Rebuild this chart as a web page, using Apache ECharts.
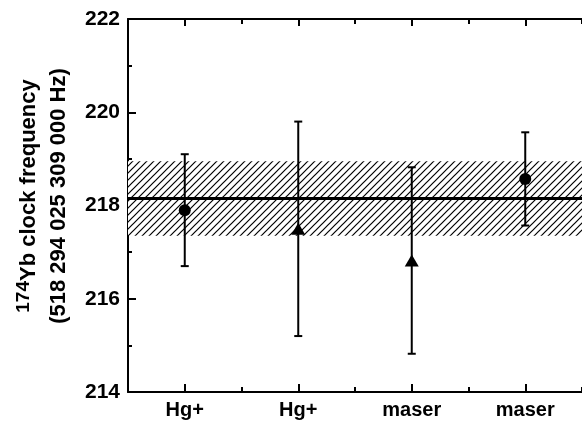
<!DOCTYPE html>
<html>
<head>
<meta charset="utf-8">
<script src="https://cdn.jsdelivr.net/npm/echarts@6/dist/echarts.min.js"></script>
<style>
html,body{margin:0;padding:0;background:#fff;}
#chart{width:582px;height:422px;}
</style>
</head>
<body>
<div id="chart"></div>
<script>
// ---- data ----
var categories = ['Hg+', 'Hg+', 'maser', 'maser'];
var values = [217.9, 217.5, 216.82, 218.57];
var errors = [1.2, 2.3, 2.0, 1.0];
var markers = ['circle', 'triangle', 'triangle', 'circle'];
var meanValue = 218.15;
var meanUncertainty = 0.8;
var yTicks = [214, 216, 218, 220, 222];

// ---- hatch pattern ----
var tile = document.createElement('canvas');
tile.width = 7; tile.height = 7;
var g = tile.getContext('2d');
g.fillStyle = '#fff'; g.fillRect(0, 0, 7, 7);
g.strokeStyle = '#000'; g.lineWidth = 1.2;
g.beginPath();
g.moveTo(-1, 8); g.lineTo(8, -1);
g.moveTo(-2, 2); g.lineTo(2, -2);
g.moveTo(5, 9); g.lineTo(9, 5);
g.stroke();

var FONT = 'Liberation Sans, Arial, sans-serif';
var chart = echarts.init(document.getElementById('chart'), null, {renderer: 'canvas'});

var pointData = values.map(function (v, i) {
  return {value: [i, v], symbol: markers[i],
          symbolSize: markers[i] === 'circle' ? 12 : [14, 12]};
});
var errData = values.map(function (v, i) { return [i, v - errors[i], v + errors[i]]; });

var catAxisBase = {
  type: 'category', data: categories, boundaryGap: true, gridIndex: 0
};

var option = {
  animation: false,
  backgroundColor: '#fff',
  grid: {left: 128, top: 19, width: 457, height: 373, containLabel: false},
  xAxis: [
    Object.assign({}, catAxisBase, {
      position: 'bottom',
      axisLine: {show: true, lineStyle: {color: '#000', width: 2}},
      axisTick: {show: true, inside: true, alignWithLabel: true, length: 8, lineStyle: {color: '#000', width: 2}},
      axisLabel: {show: true, color: '#000', fontFamily: FONT, fontWeight: 'bold', fontSize: 20, margin: 8},
      splitLine: {show: false}
    }),
    Object.assign({}, catAxisBase, {
      position: 'bottom',
      axisLine: {show: false},
      axisTick: {show: true, inside: true, alignWithLabel: false, length: 5, lineStyle: {color: '#000', width: 2}},
      axisLabel: {show: false},
      splitLine: {show: false}
    }),
    Object.assign({}, catAxisBase, {
      position: 'top',
      axisLine: {show: true, lineStyle: {color: '#000', width: 2}},
      axisTick: {show: true, inside: true, alignWithLabel: true, length: 7, lineStyle: {color: '#000', width: 2}},
      axisLabel: {show: false},
      splitLine: {show: false}
    }),
    Object.assign({}, catAxisBase, {
      position: 'top',
      axisLine: {show: false},
      axisTick: {show: true, inside: true, alignWithLabel: false, length: 5, lineStyle: {color: '#000', width: 2}},
      axisLabel: {show: false},
      splitLine: {show: false}
    })
  ],
  yAxis: [{
    type: 'value', min: yTicks[0], max: yTicks[yTicks.length - 1], interval: 2,
    axisLine: {show: true, lineStyle: {color: '#000', width: 2}},
    axisTick: {show: true, inside: true, length: 8, lineStyle: {color: '#000', width: 2}},
    minorTick: {show: true, splitNumber: 2, length: 4, lineStyle: {color: '#000', width: 2}},
    axisLabel: {color: '#000', fontFamily: FONT, fontWeight: 'bold', fontSize: 21, margin: 8},
    splitLine: {show: false}
  }],
  graphic: [{
    type: 'text',
    x: 44, y: 196,
    rotation: Math.PI / 2,
    style: {
      text: '{sup|174}{t|Yb clock frequency}\n{t|(518 294 025 309 000 Hz)}',
      align: 'center', verticalAlign: 'middle',
      fill: '#000',
      rich: {
        t: {fontFamily: FONT, fontWeight: 'bold', fontSize: 22, lineHeight: 30, fill: '#000'},
        sup: {fontFamily: FONT, fontWeight: 'bold', fontSize: 19, lineHeight: 8, verticalAlign: 'top', fill: '#000'}
      }
    }
  }],
  series: [
    {
      type: 'line', data: [], xAxisIndex: 0, yAxisIndex: 0, silent: true,
      markArea: {
        silent: true,
        itemStyle: {color: {image: tile, repeat: 'repeat'}, borderWidth: 0},
        data: [[{yAxis: meanValue - meanUncertainty}, {yAxis: meanValue + meanUncertainty}]]
      },
      markLine: {
        silent: true, symbol: ['none', 'none'], label: {show: false},
        lineStyle: {color: '#000', width: 3, type: 'solid'},
        data: [{yAxis: meanValue}]
      }
    },
    {
      type: 'custom', xAxisIndex: 0, yAxisIndex: 0, data: errData, silent: true, z: 5,
      renderItem: function (params, api) {
        var lo = api.coord([api.value(0), api.value(1)]);
        var hi = api.coord([api.value(0), api.value(2)]);
        var w = 4;
        var st = {stroke: '#000', lineWidth: 2};
        return {type: 'group', children: [
          {type: 'line', shape: {x1: lo[0], y1: lo[1], x2: hi[0], y2: hi[1]}, style: st},
          {type: 'line', shape: {x1: lo[0] - w, y1: lo[1], x2: lo[0] + w, y2: lo[1]}, style: st},
          {type: 'line', shape: {x1: hi[0] - w, y1: hi[1], x2: hi[0] + w, y2: hi[1]}, style: st}
        ]};
      }
    },
    {
      type: 'scatter', xAxisIndex: 0, yAxisIndex: 0, data: pointData, z: 6, silent: true,
      itemStyle: {color: '#000', opacity: 1}
    }
  ]
};
chart.setOption(option);
</script>
</body>
</html>
